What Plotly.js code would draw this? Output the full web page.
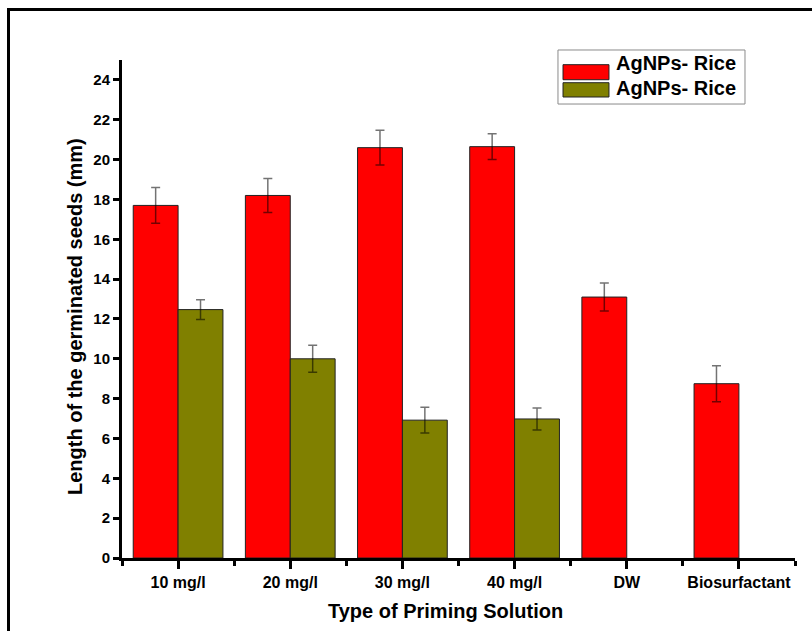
<!DOCTYPE html>
<html>
<head>
<meta charset="utf-8">
<script src="https://cdn.plot.ly/plotly-3.0.1.min.js"></script>
<style>
  html, body { margin: 0; padding: 0; background: #ffffff; }
  #wrap { position: relative; width: 812px; height: 631px; overflow: hidden; }
  #chart { position: absolute; left: 0; top: 0; width: 812px; height: 631px; }
  #frame { position: absolute; left: 7px; top: 8px; width: 820px; height: 640px;
           border-top: 3px solid #000; border-left: 3px solid #000; pointer-events: none; }
</style>
</head>
<body>
<div id="wrap">
  <div id="chart"></div>
  <div id="frame"></div>
</div>
<script>
// Priming solutions on the x axis
const categories = ['10 mg/l', '20 mg/l', '30 mg/l', '40 mg/l', 'DW', 'Biosurfactant'];

// Series names (both read "AgNPs- Rice" in the legend)
const seriesNames = ['AgNPs- Rice', 'AgNPs- Rice'];

// Germinated seed length (mm) and standard error
const redValues  = [17.7, 18.2, 20.6, 20.65, 13.1, 8.75];
const redErrors  = [0.9, 0.85, 0.87, 0.65, 0.7, 0.9];
const oliveValues = [12.47, 10.0, 6.92, 6.98, null, null];
const oliveErrors = [0.5, 0.68, 0.65, 0.55, null, null];

const yTicks = [0, 2, 4, 6, 8, 10, 12, 14, 16, 18, 20, 22, 24];

const positions = categories.map((c, i) => i);

const font = 'Liberation Sans, Arial, sans-serif';

const errStyle = { type: 'data', visible: true, thickness: 1.5, width: 4.5, color: 'rgba(0,0,0,0.55)' };

const traces = [
  {
    type: 'bar', name: seriesNames[0], x: positions, y: redValues,
    marker: { color: '#ff0000', line: { color: '#222', width: 1 } },
    error_y: Object.assign({ array: redErrors }, errStyle)
  },
  {
    type: 'bar', name: seriesNames[1], x: positions, y: oliveValues,
    marker: { color: '#808000', line: { color: '#222', width: 1 } },
    error_y: Object.assign({ array: oliveErrors }, errStyle)
  }
];

// Hand-built legend box with wide colour swatches
const legendColors = ['#ff0000', '#808000'];
const legendRows = [
  { y0: 0.9604, y1: 0.9906, ty: 0.9936 },
  { y0: 0.9257, y1: 0.9544, ty: 0.9438 }
];
const shapes = [
  { type: 'rect', xref: 'paper', yref: 'paper', x0: 0.6478, x1: 0.9257, y0: 0.9116, y1: 1.0201,
    line: { color: '#8a8a8a', width: 1 }, fillcolor: '#ffffff', layer: 'above' }
];
const annotations = [];
legendRows.forEach((r, i) => {
  shapes.push({ type: 'rect', xref: 'paper', yref: 'paper', x0: 0.6553, x1: 0.7236, y0: r.y0, y1: r.y1,
    line: { color: '#222', width: 1 }, fillcolor: legendColors[i], layer: 'above' });
  annotations.push({ xref: 'paper', yref: 'paper', x: 0.7311, y: r.ty, xanchor: 'left', yanchor: 'middle',
    text: '<b>' + seriesNames[i] + '</b>', showarrow: false, font: { family: font, size: 20, color: '#000' } });
});

// Axis titles
annotations.push({ xref: 'paper', yref: 'paper', x: -0.0698, y: 0.484, textangle: -90,
  xanchor: 'center', yanchor: 'middle', showarrow: false,
  text: '<b>Length of the germinated seeds (mm)</b>', font: { family: font, size: 20, color: '#000' } });
annotations.push({ xref: 'paper', yref: 'paper', x: 0.48, y: -0.1064,
  xanchor: 'center', yanchor: 'middle', showarrow: false,
  text: '<b>Type of Priming Solution</b>', font: { family: font, size: 20, color: '#000' } });

const layout = {
  width: 812, height: 631,
  margin: { l: 122, r: 17, t: 60, b: 73 },
  paper_bgcolor: '#ffffff', plot_bgcolor: '#ffffff',
  showlegend: false,
  barmode: 'group', bargap: 0.2, bargroupgap: 0,
  font: { family: font, color: '#000' },
  xaxis: {
    range: [-0.5, 5.5], tickmode: 'array', tickvals: positions,
    ticktext: categories.map(c => '<b>' + c + '</b>'),
    tickfont: { family: font, size: 16, color: '#000' },
    showline: true, linecolor: '#000', linewidth: 3, mirror: false,
    ticks: 'outside', ticklen: 8, tickwidth: 3, tickcolor: '#000',
    minor: { tick0: 0.5, dtick: 1, ticks: 'outside', ticklen: 5, tickwidth: 3, tickcolor: '#000', showgrid: false },
    showgrid: false, zeroline: false, fixedrange: true
  },
  yaxis: {
    range: [0, 25], tickmode: 'array', tickvals: yTicks,
    ticktext: yTicks.map(v => '<b>' + v + '</b>'),
    tickfont: { family: font, size: 15, color: '#000' },
    showline: true, linecolor: '#000', linewidth: 3,
    ticks: 'outside', ticklen: 6, tickwidth: 3, tickcolor: '#000',
    showgrid: false, zeroline: false, fixedrange: true
  },
  shapes: shapes,
  annotations: annotations
};

Plotly.newPlot('chart', traces, layout, { staticPlot: true, displayModeBar: false });
</script>
</body>
</html>
